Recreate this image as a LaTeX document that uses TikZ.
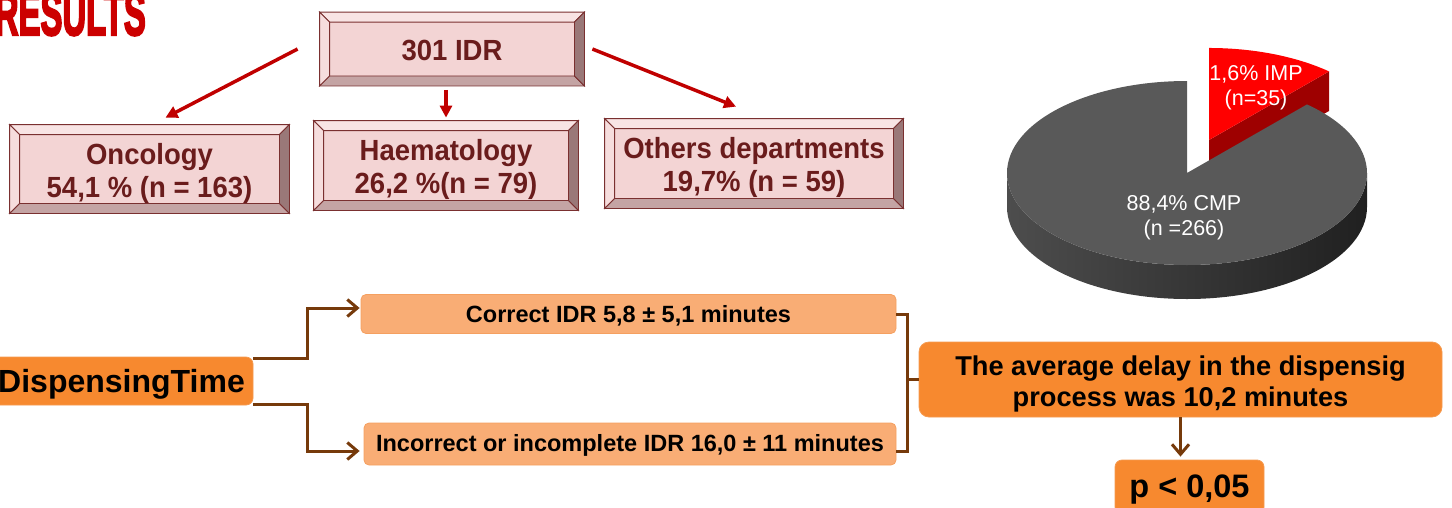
\documentclass[tikz,border=0pt]{standalone}
\usepackage{fontspec}
\setmainfont{Liberation Sans}
\newfontfamily\heavyfont[FakeBold=4]{Liberation Sans}
\usetikzlibrary{calc,arrows.meta}
\definecolor{pinkfill}{HTML}{F3D4D4}
\definecolor{bvtop}{HTML}{F8E4E4}
\definecolor{bvleft}{HTML}{F6DDDD}
\definecolor{bvright}{HTML}{9A7878}
\definecolor{bvbot}{HTML}{C4A4A4}
\definecolor{bvline}{HTML}{7A3030}
\definecolor{maroon}{HTML}{6A1C1C}
\definecolor{arrowred}{HTML}{C00000}
\definecolor{resred}{HTML}{CC0000}
\definecolor{orangefill}{HTML}{F7892F}
\definecolor{orangeline}{HTML}{F59A50}
\definecolor{lightorange}{HTML}{F9AD75}
\definecolor{lightline}{HTML}{F5A060}
\definecolor{brownc}{HTML}{763A0B}
\definecolor{cmptop}{HTML}{595959}
\definecolor{cmpsideL}{HTML}{4D4D4D}
\definecolor{cmpsideR}{HTML}{202020}
\definecolor{imptop}{HTML}{FF0000}
\definecolor{impside}{HTML}{9E0000}
\newcommand{\dn}[2]{\raisebox{-#1}[\height][\depth]{#2}}
\newcommand{\lines}[1]{\begin{tabular}{@{}c@{}}#1\end{tabular}}
\newcommand{\toptext}[1]{\dn{5pt}{\scalebox{1}[1.06]{\lines{#1}}}}
\newcommand{\drawbevel}[1]{%
  \filldraw[bvstyle, fill=bvtop] (#1.north west) -- (#1.north east) -- ($(#1.north east)+(-10,10)$) -- ($(#1.north west)+(10,10)$) -- cycle;
  \filldraw[bvstyle, fill=bvbot] (#1.south west) -- (#1.south east) -- ($(#1.south east)+(-10,-10)$) -- ($(#1.south west)+(10,-10)$) -- cycle;
  \filldraw[bvstyle, fill=bvleft] (#1.north west) -- (#1.south west) -- ($(#1.south west)+(10,-10)$) -- ($(#1.north west)+(10,10)$) -- cycle;
  \filldraw[bvstyle, fill=bvright] (#1.north east) -- (#1.south east) -- ($(#1.south east)+(-10,-10)$) -- ($(#1.north east)+(-10,10)$) -- cycle;
}
\begin{document}
\begin{tikzpicture}[x=1pt,y=-1pt,
  bvstyle/.style={draw=bvline, line width=0.8pt},
  topbox/.style={draw=bvline, line width=0.8pt, fill=pinkfill, inner sep=0pt, text=maroon,
    font=\fontsize{27.5}{31}\selectfont\bfseries},
  redarrow/.style={draw=arrowred, line width=3.5pt, -{Triangle[length=12pt,width=12pt]}},
  pielabel/.style={text=white, inner sep=0pt, font=\fontsize{21.5}{25}\selectfont},
  orangebox/.style={fill=orangefill, draw=orangeline, line width=0.8pt, rounded corners=7pt, inner sep=0pt, text=black},
  lightbox/.style={fill=lightorange, draw=lightline, line width=0.8pt, rounded corners=5pt, inner sep=0pt, text=black,
    font=\fontsize{23.5}{28}\selectfont\bfseries},
  brownline/.style={draw=brownc, line width=3pt},
  brownarrow/.style={brownline, -{Straight Barb[length=10pt,width=17pt]}}]
\useasboundingbox (0,0) rectangle (1452,507);
\clip (0,0) rectangle (1452,507);

% title
\node[anchor=base east, text=resred, inner sep=0pt] (title) at (146,35)
  {\scalebox{0.53}[1]{\fontsize{62}{62}\heavyfont\bfseries RESULTS}};

% top boxes
\node[topbox, minimum width=264pt, minimum height=73pt] (idr) at (452,49) {\toptext{301 IDR}};
\drawbevel{idr}
\node[topbox, minimum width=279pt, minimum height=88pt] (onc) at (149.5,169) {\toptext{Oncology\\54,1 \% (n = 163)}};
\drawbevel{onc}
\node[topbox, minimum width=264pt, minimum height=89pt] (hae) at (446,165.5) {\toptext{Haematology\\26,2 \%(n = 79)}};
\drawbevel{hae}
\node[topbox, minimum width=298pt, minimum height=89pt] (oth) at (754,163.5) {\toptext{Others departments\\19,7\% (n = 59)}};
\drawbevel{oth}

\draw[redarrow] ($(idr.west)+(-22,0)$) -- ($(onc.north)+(16,-7)$);
\draw[redarrow] ($(idr.south -| hae.north)+(0,4)$) -- ($(hae.north)+(0,-3)$);
\draw[redarrow] ($(idr.east)+(8,0)$) -- ($(oth.north)+(-18,-12)$);

% pie chart
\begin{scope}[shift={(1187,173)}, yscale=-1]
  \fill[impside] (22,33) -- (142,101.6) -- (142,62) -- (22,-6) -- cycle;
  \fill[imptop] (22,33) -- (142,101.6) arc[start angle=48.2, end angle=90, x radius=180, y radius=92] -- cycle;
  \shade[left color=cmpsideL, right color=cmpsideR] (-180,0) arc[start angle=180, end angle=360, x radius=180, y radius=92]
     -- (180,-34) arc[start angle=0, end angle=-180, x radius=180, y radius=92] -- cycle;
  \fill[cmptop] (0,0) -- (0,92) arc[start angle=90, end angle=408.2, x radius=180, y radius=92] -- cycle;
\end{scope}
\node[pielabel] (implab) at (1256,86) {\dn{2pt}{\lines{1,6\% IMP\\(n=35)}}};
\node[pielabel] (cmplab) at (1184,214) {\dn{4pt}{\lines{88,4\% CMP\\(n =266)}}};

% bottom flow
\node[orangebox, minimum width=263pt, minimum height=48pt, font=\fontsize{32}{36}\selectfont\bfseries] (disp) at (121.5,381) {\dn{3pt}{DispensingTime}};
\node[lightbox, minimum width=535pt, minimum height=39pt] (correct) at (628.5,314) {\dn{2pt}{Correct IDR 5,8 ± 5,1 minutes}};
\node[lightbox, minimum width=532pt, minimum height=42pt] (incorrect) at (630,444) {\dn{1.5pt}{Incorrect or incomplete IDR 16,0 ± 11 minutes}};
\node[orangebox, minimum width=523pt, minimum height=75pt, rounded corners=10pt,
  font=\fontsize{27.2}{31.5}\selectfont\bfseries] (avg) at (1180.5,379.5) {\dn{5pt}{\lines{The average delay in the dispensig\\process was 10,2 minutes}}};
\node[orangebox, minimum width=149pt, minimum height=54pt, font=\fontsize{32.5}{36}\selectfont\bfseries] (pval) at (1189.5,487) {\dn{3pt}{p < 0,05}};

\draw[brownarrow] ($(disp.north east)+(0,2)$) -- ++(54,0) |- ($(correct.west)+(-1,-6)$);
\draw[brownarrow] ($(disp.south east)+(0,-1)$) -- ++(54,0) |- ($(incorrect.west)+(-4,7)$);
\draw[brownline] (correct.east) -- ++(11,0) |- ($(incorrect.east)+(0,7)$);
\draw[brownline] (avg.west) -- ++(-12,0);
\draw[brownarrow] (avg.south) -- ($(pval.north -| avg.south)+(0,-3)$);
\end{tikzpicture}
\end{document}
